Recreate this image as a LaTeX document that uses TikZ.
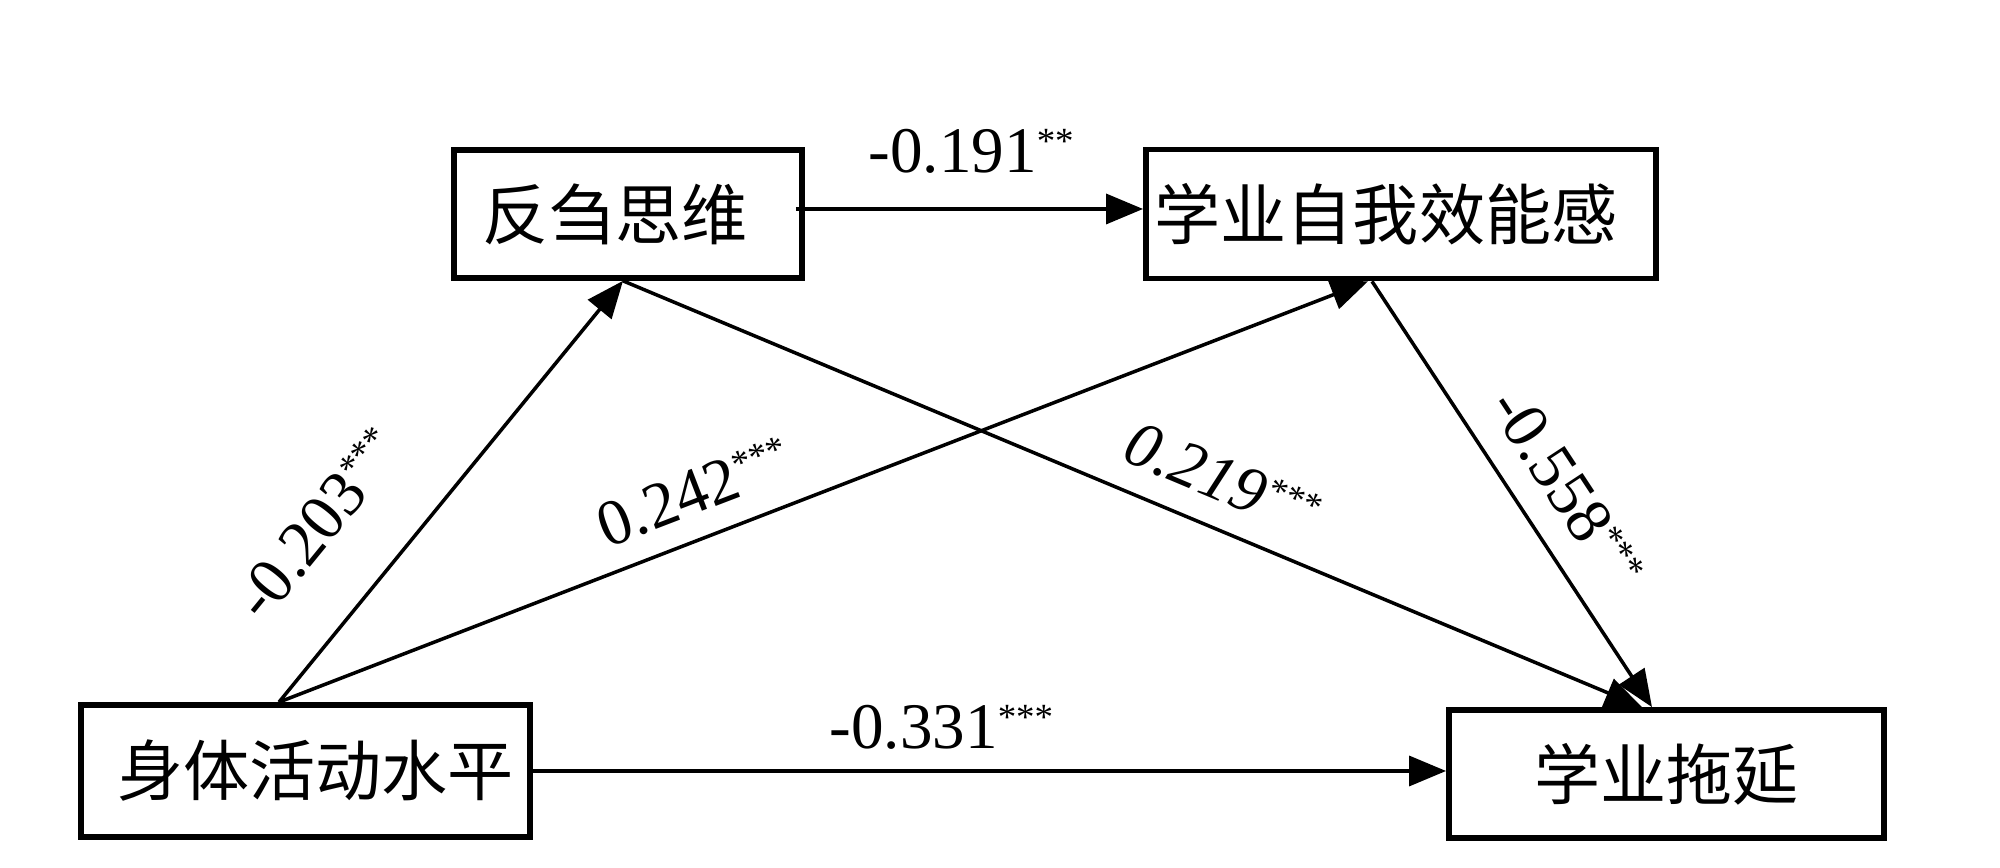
\documentclass[tikz,border=0pt]{standalone}
\usepackage{fontspec}
\setmainfont{Liberation Serif}
\newfontfamily\cjk{Noto Sans CJK SC}
\usetikzlibrary{arrows.meta}
\newcommand\sigst[1]{\raisebox{5.5pt}{\fontsize{10.5}{12}\selectfont #1}}
\tikzset{
  boxnode/.style={draw, line width=1.6pt, rectangle, inner sep=0pt,
    font=\cjk\fontsize{18.8}{22}\selectfont},
  arr/.style={line width=1.0pt, -{Triangle[length=0.37cm,width=0.30cm]}},
  lbl/.style={inner sep=0pt, font=\fontsize{18.5}{22}\selectfont}
}
\begin{document}
\begin{tikzpicture}[x=0.01cm,y=-0.01cm]
\useasboundingbox[fill=white] (0,0) rectangle (2000,868);
% boxes
\node[boxnode, minimum width=3.48cm, minimum height=1.28cm] (A) at (628,214) {反刍思维\kern0.26cm};
\node[boxnode, minimum width=5.10cm, minimum height=1.29cm] (B) at (1401,214) {学业自我效能感\kern0.30cm};
\node[boxnode, minimum width=4.49cm, minimum height=1.32cm] (C) at (305.5,771) {\kern0.2cm 身体活动水平};
\node[boxnode, minimum width=4.35cm, minimum height=1.28cm] (D) at (1666.5,774) {学业拖延};
% connectors
\draw[arr] ([xshift=-0.09cm,yshift=0.05cm]A.east) -- ([yshift=0.05cm]B.west);
\draw[arr] ([xshift=-0.265cm]C.north) -- ([xshift=-0.05cm]A.south);
\draw[arr] ([xshift=-0.265cm]C.north) -- ([xshift=-0.33cm]B.south);
\draw[arr] ([xshift=-0.05cm]A.south) -- ([xshift=-0.245cm]D.north);
\draw[arr] ([xshift=-0.29cm]B.south) -- ([xshift=-0.145cm]D.north);
\draw[arr] (C.east) -- (C.east -| D.west);
% labels
\node[lbl, anchor=base west] (l1) at (868,173) {-0.191\sigst{**}};
\node[lbl, anchor=base west] (l6) at (829,749) {-0.331\sigst{***}};
\node[lbl, rotate=50.7] (l2) at (318,524) {-0.203\sigst{***}};
\node[lbl, rotate=21.0] (l3) at (694,492) {0.242\sigst{***}};
\node[lbl, rotate=-22.8, font=\fontsize{18.5}{22}\selectfont\itshape] (l4) at (1222,479) {0.219\sigst{***}};
\node[lbl, rotate=-56.7] (l5) at (1567,488) {-0.558\sigst{***}};
\end{tikzpicture}
\end{document}
